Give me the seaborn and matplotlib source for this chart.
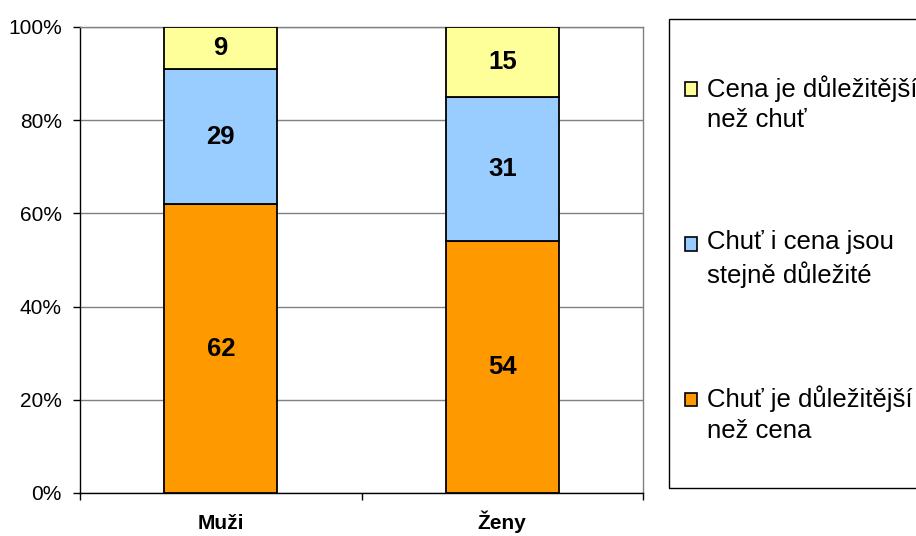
import numpy as np
import pandas as pd
import matplotlib.pyplot as plt
import seaborn as sns
from matplotlib.patches import Patch, Rectangle
from matplotlib.legend_handler import HandlerPatch
from matplotlib.ticker import FixedLocator

# Data
groups = ["Muži", "Ženy"]
chut_vice = [62, 54]
stejne = [29, 31]
cena_vice = [9, 15]
series_labels = ["Chuť je důležitější\nnež cena",
                 "Chuť i cena jsou\nstejně důležité",
                 "Cena je důležitější\nnež chuť"]
colors = ["#FF9900", "#99CCFF", "#FFFF99"]

sns.set_theme(style="white")
plt.rcParams['font.family'] = ['Liberation Sans', 'DejaVu Sans']
plt.rcParams['text.color'] = 'black'
plt.rcParams['xtick.color'] = 'black'
plt.rcParams['ytick.color'] = 'black'

fig = plt.figure(figsize=(9.16, 5.36), dpi=100)
ax = fig.add_axes([80 / 916, 43 / 536, 563 / 916, 466 / 536])

# -----------------------------
# Stacked bars
# -----------------------------
series = [chut_vice, stejne, cena_vice]
bottom = np.zeros(len(groups))
for vals, col in zip(series, colors):
    df = pd.DataFrame({"group": groups, "value": vals})
    sns.barplot(data=df, x="group", y="value", color=col, bottom=bottom,
                width=0.4, edgecolor="black", linewidth=1.3, saturation=1,
                errorbar=None, ax=ax, zorder=3)
    ax.bar_label(ax.containers[-1], labels=[str(v) for v in vals],
                 label_type="center", fontsize=18.5, fontweight="bold",
                 color="black")
    bottom = bottom + np.array(vals)

# -----------------------------
# Axes styling
# -----------------------------
ax.set_xlim(-0.5, 1.5)
ax.set_ylim(0, 100)
ax.set_yticks(range(0, 101, 20))
ax.set_yticklabels([f"{v}%" for v in range(0, 101, 20)], fontsize=15)
ax.yaxis.grid(True, color="#808080", linewidth=1)
ax.set_axisbelow(True)
ax.tick_params(axis="y", which="major", left=True, length=5, width=1,
               color="black", direction="out", pad=8)
ax.tick_params(axis="x", which="major", length=0, pad=26)
ax.xaxis.set_minor_locator(FixedLocator([-0.5, 0.5, 1.5]))
ax.tick_params(axis="x", which="minor", bottom=True, length=5, width=1,
               color="black", direction="out")
for lab in ax.get_xticklabels():
    lab.set_fontsize(15)
    lab.set_fontweight("bold")
    lab.set_verticalalignment("baseline")
ax.set_xlabel("")
ax.set_ylabel("")
for side in ["left", "bottom"]:
    ax.spines[side].set_color("black")
    ax.spines[side].set_linewidth(1)
for side in ["top", "right"]:
    ax.spines[side].set_color("#808080")
    ax.spines[side].set_linewidth(1)

# -----------------------------
# Legend (square sits next to the first text line)
# -----------------------------
def top_square(legend, orig_handle, xdescent, ydescent, width, height, fontsize):
    return Rectangle((-xdescent, -ydescent + 11), width, height)

handles = [Patch(facecolor=c, edgecolor="black", linewidth=1.2) for c in colors[::-1]]
leg = fig.legend(handles, series_labels[::-1], loc="center left",
                 bbox_to_anchor=(685 / 916, 1 - 259 / 536), frameon=False,
                 fontsize=18.5, handlelength=0.45, handleheight=0.45,
                 handletextpad=0.4, labelspacing=3.8, borderpad=0,
                 borderaxespad=0,
                 handler_map={Patch: HandlerPatch(patch_func=top_square)})
for t in leg.get_texts():
    t.set_linespacing(1.35)
fig.add_artist(Rectangle((669 / 916, 1 - 488 / 536), 300 / 916, 469 / 536,
                         transform=fig.transFigure, fill=False,
                         edgecolor="black", linewidth=1))

fig.savefig("out.png", dpi=100)
